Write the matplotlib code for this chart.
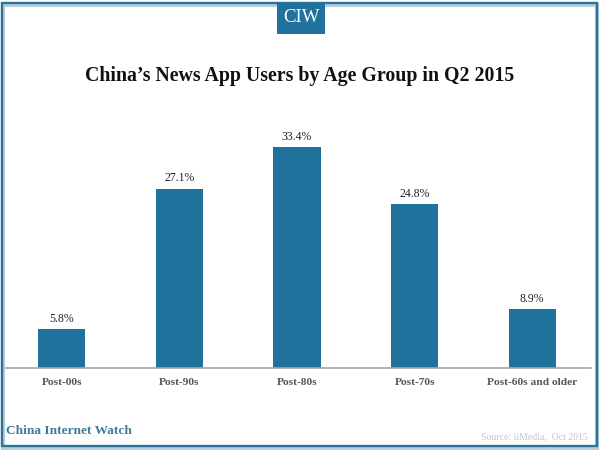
import matplotlib
matplotlib.use("Agg")
import matplotlib.pyplot as plt
from matplotlib.patches import Rectangle

categories = ["Post-00s", "Post-90s", "Post-80s", "Post-70s", "Post-60s and older"]
values = [5.8, 27.1, 33.4, 24.8, 8.9]
value_labels = ["5.8%", "27.1%", "33.4%", "24.8%", "8.9%"]

BLUE = "#20729c"
W, H = 600, 450
plt.rcParams["font.family"] = ["Liberation Serif", "DejaVu Serif"]

fig = plt.figure(figsize=(6, 4.5), dpi=100, facecolor="white")


def fx(x):
    return x / W


def fy(y):
    return 1 - y / H


# Outer frame with soft shadow
fig.add_artist(Rectangle((fx(3), fy(447.5)), 594 / W, 443 / H, transform=fig.transFigure,
                         fill=False, ec="#b5cfdc", lw=3))
fig.add_artist(Rectangle((fx(1.5), fy(446)), 595.5 / W, 443 / H, transform=fig.transFigure,
                         fill=False, ec="#2f7299", lw=1.7))

# Logo block
fig.add_artist(Rectangle((fx(277), fy(34)), 48 / W, 31 / H, transform=fig.transFigure,
                         fc=BLUE, ec="none"))
fig.text(fx(301), fy(18), "CIW", color="white", fontsize=13.5, ha="center", va="center")

# Title
fig.text(fx(300), fy(75.5), "China\u2019s News App Users by Age Group in Q2 2015",
         fontsize=14.3, fontweight="bold", color="#111111", ha="center", va="center")

# Plot
ax = fig.add_axes([fx(3), fy(367.5), 588 / W, 267.5 / H])
ax.patch.set_alpha(0)
positions = list(range(len(categories)))
bars = ax.bar(positions, values, width=0.4, color=BLUE)
ax.set_xlim(-0.5, len(categories) - 0.5)
ax.set_ylim(0, 40.5)
ax.set_yticks([])
ax.set_xticks(positions)
ax.set_xticklabels(categories, fontsize=8.2, fontweight="bold", color="#555555")
ax.tick_params(axis="x", length=0, pad=7.5)
for side in ["top", "left", "right"]:
    ax.spines[side].set_visible(False)
ax.spines["bottom"].set_color("#a6a6a6")
ax.spines["bottom"].set_linewidth(1.2)

for bar, label in zip(bars, value_labels):
    ax.annotate(label, (bar.get_x() + bar.get_width() / 2, bar.get_height()),
                xytext=(0, 3), textcoords="offset points", ha="center", va="bottom",
                fontsize=8.5, color="#222222")

# Footer
fig.text(fx(6), fy(430.5), "China Internet Watch", fontsize=9.6, fontweight="bold",
         color="#3f7c9c", ha="left", va="center")
fig.text(fx(588), fy(437), "Source: iiMedia,  Oct 2015", fontsize=7.0, color="#bfc5cc",
         ha="right", va="center")

fig.savefig("out.png", dpi=100, facecolor="white")
